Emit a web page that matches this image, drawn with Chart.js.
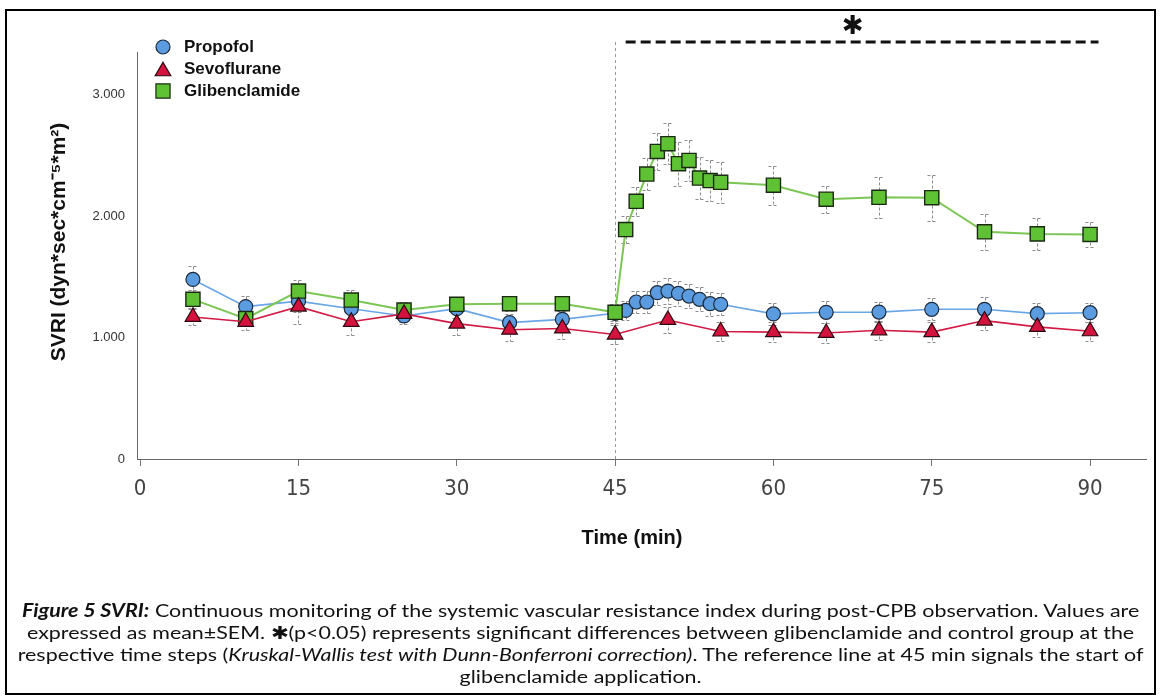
<!DOCTYPE html>
<html>
<head>
<meta charset="utf-8">
<title>SVRI</title>
<script src="https://cdn.jsdelivr.net/npm/chart.js@4.4.1/dist/chart.umd.min.js"></script>
<style>
  body { margin: 0; background: #fff; }
  #wrap { position: relative; width: 1161px; height: 698px; overflow: hidden; }
  #myChart { position: absolute; left: 0; top: 0; }
  #frame { position: absolute; left: 5px; top: 9px; width: 1151px; height: 686px; border: 2px solid #000; box-sizing: border-box; }
  #caption { position: absolute; left: 8px; width: 1145px; top: 599px; text-align: center;
    font-family: Lato, 'Open Sans', sans-serif; font-size: 18px; line-height: 22px; color: #111;
    transform: scaleX(1.19); transform-origin: 572px 0; white-space: nowrap; }
</style>
</head>
<body>
<div id="wrap">
  <canvas id="myChart" width="1161" height="560"></canvas>
  <div id="frame"></div>
  <div id="caption">
    <b><i>Figure 5 SVRI:</i></b> Continuous monitoring of the systemic vascular resistance index during post-CPB observation. Values are<br>
    expressed as mean±SEM. ✱(p&lt;0.05) represents significant differences between glibenclamide and control group at the<br>
    respective time steps (<i>Kruskal-Wallis test with Dunn-Bonferroni correction)</i>. The reference line at 45 min signals the start of<br>
    glibenclamide application.
  </div>
</div>
<script>
let myChart = document.querySelector('#myChart').getContext('2d')

const propofolTimes = [5, 10, 15, 20, 25, 30, 35, 40, 45, 46, 47, 48, 49, 50, 51, 52, 53, 54, 55, 60, 65, 70, 75, 80, 85, 90]
const propofolMean = [1479, 1255, 1300, 1238, 1178, 1238, 1123, 1150, 1200, 1224, 1293, 1293, 1370, 1383, 1364, 1342, 1315, 1279, 1274, 1195, 1208, 1210, 1233, 1233, 1197, 1205]
const propofolSem = [110, 90, 90, 90, 70, 80, 70, 80, 80, 80, 90, 90, 100, 110, 100, 100, 100, 100, 90, 90, 90, 80, 90, 100, 90, 80]

const sevoTimes = [5, 10, 15, 20, 25, 30, 35, 40, 45, 50, 55, 60, 65, 70, 75, 80, 85, 90]
const sevoMean = [1170, 1130, 1255, 1130, 1195, 1115, 1065, 1075, 1025, 1145, 1050, 1045, 1038, 1060, 1045, 1140, 1088, 1052]
const sevoSem = [70, 70, 140, 110, 70, 90, 90, 90, 80, 110, 80, 80, 80, 80, 80, 80, 80, 80]

const glibTimes = [5, 10, 15, 20, 25, 30, 35, 40, 45, 46, 47, 48, 49, 50, 51, 52, 53, 54, 55, 60, 65, 70, 75, 80, 85, 90]
const glibMean = [1315, 1156, 1383, 1309, 1227, 1274, 1279, 1279, 1208, 1890, 2122, 2347, 2533, 2597, 2432, 2459, 2314, 2293, 2279, 2255, 2140, 2155, 2152, 1871, 1854, 1849]
const glibSem = [80, 60, 90, 80, 70, 60, 60, 60, 70, 110, 120, 130, 150, 170, 180, 170, 170, 170, 170, 160, 110, 170, 190, 150, 130, 100]

const xTicks = [0, 15, 30, 45, 60, 75, 90]
const yTicks = [0, 1000, 2000, 3000]
const glibStart = 45
const sigFrom = 46
const sigTo = 90.8
const sigStar = 67.5

const toPoints = (times, values) => times.map((t, i) => ({ x: t, y: values[i] }))

const sans = "'Liberation Sans', Arial, sans-serif"
Chart.defaults.font.family = sans
Chart.defaults.color = '#222'

// dashed SEM whiskers behind the markers
const errorBars = {
    id: 'errorBars',
    beforeDatasetsDraw(chart) {
        const ctx = chart.ctx
        const xs = chart.scales.x
        const ys = chart.scales.y
        ctx.save()
        ctx.strokeStyle = '#8c8c8c'
        ctx.lineWidth = 1
        ctx.setLineDash([3, 2])
        chart.data.datasets.forEach(ds => {
            ds.data.forEach((p, i) => {
                const x = Math.round(xs.getPixelForValue(p.x)) + 0.5
                const top = Math.round(ys.getPixelForValue(p.y + ds.sem[i])) + 0.5
                const bot = Math.round(ys.getPixelForValue(p.y - ds.sem[i])) + 0.5
                ctx.beginPath()
                ctx.moveTo(x, top)
                ctx.lineTo(x, bot)
                ctx.moveTo(x - 5, top)
                ctx.lineTo(x + 5, top)
                ctx.moveTo(x - 5, bot)
                ctx.lineTo(x + 5, bot)
                ctx.stroke()
            })
        })
        // reference line where glibenclamide starts
        const rx = Math.round(xs.getPixelForValue(glibStart)) + 0.5
        ctx.strokeStyle = '#9a9a9a'
        ctx.setLineDash([3, 3])
        ctx.beginPath()
        ctx.moveTo(rx, chart.chartArea.top - 10)
        ctx.lineTo(rx, chart.chartArea.bottom)
        ctx.stroke()
        ctx.restore()
    }
}

const extras = {
    id: 'extras',
    afterDraw(chart) {
        const ctx = chart.ctx
        const xs = chart.scales.x
        ctx.save()

        // axis titles
        ctx.fillStyle = '#111'
        ctx.font = 'bold 20px ' + sans
        ctx.textAlign = 'center'
        ctx.textBaseline = 'middle'
        ctx.fillText('Time (min)', 632, 538)
        ctx.save()
        ctx.translate(59, 242)
        ctx.rotate(-Math.PI / 2)
        ctx.font = 'bold 21px ' + sans
        ctx.fillText('SVRI (dyn*sec*cm\u207B\u2075*m\u00B2)', 0, 0)
        ctx.restore()

        // significance bar
        ctx.strokeStyle = '#111'
        ctx.lineWidth = 3
        ctx.setLineDash([10, 5])
        ctx.beginPath()
        ctx.moveTo(xs.getPixelForValue(sigFrom), 42)
        ctx.lineTo(xs.getPixelForValue(sigTo), 42)
        ctx.stroke()
        ctx.setLineDash([])
        ctx.font = '26px "DejaVu Sans", sans-serif'
        ctx.fillText('\u2731', xs.getPixelForValue(sigStar), 27)

        // legend
        const rows = [47, 69, 91]
        chart.data.datasets.forEach((ds, i) => {
            ctx.fillStyle = ds.pointBackgroundColor
            ctx.strokeStyle = ds.pointBorderColor
            ctx.lineWidth = 1.2
            const r = ds.pointRadius
            const dy = ds.pointStyle === 'triangle' ? r / 4 : 0
            Chart.helpers.drawPoint(ctx, { pointStyle: ds.pointStyle, radius: r, rotation: 0, borderWidth: 1.2 }, 163, rows[i] + dy)
            ctx.fillStyle = '#111'
            ctx.font = 'bold 17px ' + sans
            ctx.textAlign = 'left'
            ctx.fillText(ds.label, 184, rows[i])
        })
        ctx.restore()
    }
}

const buildChart = () => {
    let svriChart = new Chart(myChart, {
        type: 'line',
        data: {
            datasets: [{
                label: 'Propofol',
                data: toPoints(propofolTimes, propofolMean),
                sem: propofolSem,
                borderColor: '#6aa6e6',
                borderWidth: 1.6,
                pointStyle: 'circle',
                pointRadius: 7,
                pointBackgroundColor: '#5b9be0',
                pointBorderColor: '#1c2a3a',
                pointBorderWidth: 1.2,
                order: 3
            }, {
                label: 'Sevoflurane',
                data: toPoints(sevoTimes, sevoMean),
                sem: sevoSem,
                borderColor: '#d21a44',
                borderWidth: 1.6,
                pointStyle: 'triangle',
                pointRadius: 9,
                pointBackgroundColor: '#d3123d',
                pointBorderColor: '#2a0a10',
                pointBorderWidth: 1.2,
                order: 1
            }, {
                label: 'Glibenclamide',
                data: toPoints(glibTimes, glibMean),
                sem: glibSem,
                borderColor: '#7cc655',
                borderWidth: 2,
                pointStyle: 'rect',
                pointRadius: 10,
                pointBackgroundColor: '#5fc235',
                pointBorderColor: '#1a2a12',
                pointBorderWidth: 1.4,
                order: 2
            }]
        },
        options: {
            responsive: false,
            animation: false,
            devicePixelRatio: 1,
            layout: { padding: { left: 0, right: 15, top: 52, bottom: 0 } },
            plugins: { legend: { display: false }, tooltip: { enabled: false } },
            scales: {
                x: {
                    type: 'linear',
                    min: -0.3,
                    max: 95.3,
                    afterFit: s => { s.height = 101 },
                    afterBuildTicks: s => { s.ticks = xTicks.map(v => ({ value: v })) },
                    border: { display: true, color: '#666', width: 1 },
                    grid: { drawOnChartArea: false, drawTicks: true, tickLength: 7, color: '#777' },
                    ticks: {
                        padding: 10,
                        color: '#444',
                        font: { size: 22, family: "'Liberation Sans Narrow', 'DejaVu Sans Condensed', sans-serif" }
                    }
                },
                y: {
                    min: 0,
                    max: 3352,
                    afterFit: s => { s.width = 137 },
                    afterBuildTicks: s => { s.ticks = yTicks.map(v => ({ value: v })) },
                    border: { display: true, color: '#666', width: 1 },
                    grid: { display: false, drawTicks: false },
                    ticks: {
                        padding: 12,
                        color: '#333',
                        font: { size: 13 },
                        callback: v => v === 0 ? '0' : (v / 1000).toFixed(3)
                    }
                }
            }
        },
        plugins: [errorBars, extras]
    })
}

buildChart()
</script>
</body>
</html>
